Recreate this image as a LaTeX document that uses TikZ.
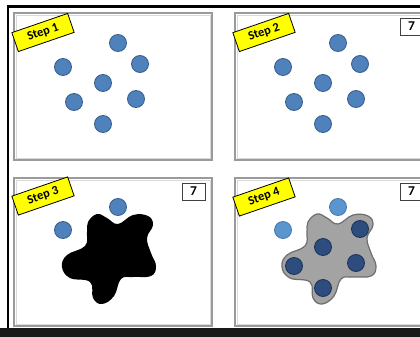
\documentclass[tikz,border=0pt]{standalone}
\usepackage{fontspec}
\setmainfont{Carlito}
\definecolor{dotblue}{HTML}{4F81BD}
\definecolor{dotedge}{HTML}{385D8A}
\definecolor{darkdot}{HTML}{2C4D7E}
\definecolor{darkedge}{HTML}{1C3254}
\definecolor{lightdot}{HTML}{5B95D0}
\definecolor{panelgray}{HTML}{9A9A9A}
\definecolor{blobgray}{HTML}{A3A3A3}
\definecolor{blobedge}{HTML}{6E6E6E}
\definecolor{tagyellow}{HTML}{FFFF00}
\tikzset{
  panel/.style={draw=panelgray, line width=1.8pt, fill=white},
  panelinner/.style={draw=black!15, line width=0.6pt},
  dotnode/.style={circle, minimum size=17pt, inner sep=0pt, fill=dotblue, draw=dotedge, line width=0.8pt},
  darkdotnode/.style={dotnode, fill=darkdot, draw=darkedge},
  lightdotnode/.style={dotnode, fill=lightdot, draw=lightdot!80!black},
  tag/.style={fill=tagyellow, draw=black, line width=0.8pt, rotate=19, minimum width=59pt, minimum height=20pt, inner sep=0pt, font=\fontsize{12.5}{13}\selectfont\bfseries},
  numbox/.style={draw=black!75, line width=0.8pt, fill=white, minimum width=23pt, minimum height=17pt, inner sep=0pt, font=\fontsize{13.5}{14}\selectfont\bfseries},
}
\begin{document}
\begin{tikzpicture}[x=1pt, y=-1pt]
\useasboundingbox (0,0) rectangle (420,337);
\clip (0,0) rectangle (420,337);
\fill[white] (0,0) rectangle (420,337);
% black frame
\fill[black] (7,5) rectangle (420,8);
\fill[black] (7,5) rectangle (9,330);
\fill[black!90] (0,328) rectangle (420,337);
% panels
\draw[panel] (14,13) rectangle (212,160);
\draw[panel] (235,13) rectangle (433,160);
\draw[panel] (14,178) rectangle (212,326);
\draw[panel] (235,178) rectangle (433,326);
\draw[panelinner] (16,15) rectangle (210,158);
\draw[panelinner] (237,15) rectangle (431,158);
\draw[panelinner] (16,180) rectangle (210,324);
\draw[panelinner] (237,180) rectangle (431,324);
% tags
\node[tag] (t1) at (43,32.5) {Step 1};
\node[tag] (t2) at (264,32.5) {Step 2};
\node[tag] (t3) at (43,196) {Step 3};
\node[tag] (t4) at (264,197) {Step 4};
% number boxes
\node[numbox] (n2) at (411.5,26.5) {7};
\node[numbox] (n3) at (193.5,191.5) {7};
\node[numbox] (n4) at (411.5,191.5) {7};
% panel 1 dots
\node[dotnode] (a1) at (118,43) {};
\node[dotnode] (a2) at (63,67) {};
\node[dotnode] (a3) at (140,64) {};
\node[dotnode] (a4) at (103,83) {};
\node[dotnode] (a5) at (74,102) {};
\node[dotnode] (a6) at (136,99) {};
\node[dotnode] (a7) at (103,124) {};
% panel 2 dots
\node[dotnode] (b1) at (338,43) {};
\node[dotnode] (b2) at (283,67) {};
\node[dotnode] (b3) at (360,64) {};
\node[dotnode] (b4) at (323,83) {};
\node[dotnode] (b5) at (294,102) {};
\node[dotnode] (b6) at (356,99) {};
\node[dotnode] (b7) at (323,124) {};
% panel 3
\node[dotnode] (c1) at (118,207) {};
\node[dotnode] (c2) at (63,230) {};
\fill[black] plot[smooth cycle, tension=0.7] coordinates {
 (88,222) (97,214) (107,218) (118,224) (133,215) (148,216) (153,225)
 (147,238) (151,253) (156,266) (151,276) (133,277) (121,279) (114,296)
 (102,304) (93,298) (90,282) (70,278) (62,267) (67,255) (85,246) (87,232)};
% panel 4
\node[lightdotnode] (d1) at (338,207) {};
\node[lightdotnode] (d2) at (283,230) {};
\begin{scope}[shift={(220,0)}]
\filldraw[fill=blobgray, draw=blobedge, line width=1.2pt] plot[smooth cycle, tension=0.7] coordinates {
 (88,222) (97,214) (107,218) (118,224) (133,215) (148,216) (153,225)
 (147,238) (151,253) (156,266) (151,276) (133,277) (121,279) (114,296)
 (102,304) (93,298) (90,282) (70,278) (62,267) (67,255) (85,246) (87,232)};
\end{scope}
\node[darkdotnode] (e3) at (360,229) {};
\node[darkdotnode] (e4) at (323,247) {};
\node[darkdotnode] (e5) at (294,266) {};
\node[darkdotnode] (e6) at (356,263) {};
\node[darkdotnode] (e7) at (323,288) {};
\end{tikzpicture}
\end{document}
